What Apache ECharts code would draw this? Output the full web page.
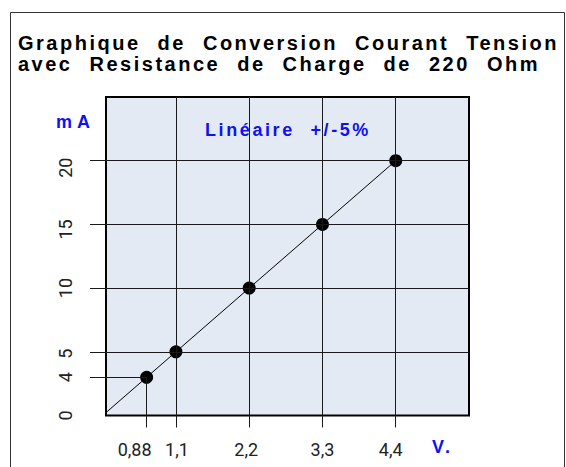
<!DOCTYPE html>
<html><head><meta charset="utf-8">
<script src="https://cdn.jsdelivr.net/npm/echarts@6/dist/echarts.min.js"></script>
<style>
html,body{margin:0;padding:0;background:#fff;}
#chart{width:566px;height:467px;}
#chart text[style*="ttlfont"]{letter-spacing:2.5px;word-spacing:9px;}
#chart text[style*="notefont"]{letter-spacing:2.6px;word-spacing:8px;}
#chart text[style*="unitfont"]{letter-spacing:5px;}
</style></head><body><div id="chart"></div>
<script>
// ---- data ----
const titleText = 'Graphique de Conversion Courant Tension\navec Resistance de Charge de 220 Ohm';
const voltTickPos = [0.66, 1.1, 2.2, 3.3, 4.4];          // positions on the drawn (linear) V scale
const voltTickLabels = ['0,88', '1,1', '2,2', '3,3', '4,4'];
const mATickPos = [0, 3, 5, 10, 15, 20];                 // positions on the drawn (linear) mA scale
const mATickLabels = ['0', '4', '5', '10', '15', '20'];
const pointVolts = [0, 0.66, 1.1, 2.2, 3.3, 4.4];
const pointmA = [0, 3, 5, 10, 15, 20];
const gridVolts = [1.1, 2.2, 3.3, 4.4];
const gridmA = [5, 10, 15, 20];
const unitY = 'mA', unitX = 'V.', noteText = 'Linéaire +/-5%';
// ---------------------------------------

// small per-label nudges (padding) seen in the reference
const xLabelPad = [[0, 24, 0, 0], [0, 0, 0, 2], [0, 6, 0, 0], [0, 0, 0, 0], [0, 10, 0, 0]];
const yLabelPad = [[0, 0, 0, 0], [0, 0, 0, 0], [0, 4, 0, 0], [0, 0, 0, 0], [0, 10, 0, 0], [0, 14, 0, 0]];

function nearest(pos, v) {
  let best = 0;
  for (let i = 1; i < pos.length; i++) if (Math.abs(pos[i] - v) < Math.abs(pos[best] - v)) best = i;
  return best;
}
function richFor(pads) {
  const r = {};
  pads.forEach((p, i) => { r['s' + i] = { padding: p, fontSize: 18, fontFamily: 'Roboto', color: '#222' }; });
  return r;
}
const X_MIN = 0.05, X_MAX = 5.5, Y_MIN = 0, Y_MAX = 25;
const lineCol = '#1a1a1a';
const blue = '#1010f4';
const chart = echarts.init(document.getElementById('chart'), null, { renderer: 'svg' });
const markData = [];
gridVolts.forEach(v => markData.push({ xAxis: v }));
gridmA.forEach(v => markData.push({ yAxis: v }));
// drop lines from the first point to the axes
markData.push([{ coord: [pointVolts[1], Y_MIN] }, { coord: [pointVolts[1], pointmA[1]] }]);
markData.push([{ coord: [X_MIN, pointmA[1]] }, { coord: [pointVolts[1], pointmA[1]] }]);

chart.setOption({
  animation: false,
  backgroundColor: '#fff',
  title: {
    text: titleText, left: 18, top: 32, padding: 0,
    textStyle: { fontSize: 20, fontWeight: 'bold', fontFamily: 'Liberation Sans, ttlfont', color: '#000', lineHeight: 21 }
  },
  grid: { left: 106, top: 97, width: 363, height: 318.5, show: true, backgroundColor: '#e4eaf3', borderColor: '#000', borderWidth: 2 },
  xAxis: {
    type: 'value', min: X_MIN, max: X_MAX,
    axisLine: { show: false }, splitLine: { show: false },
    axisTick: { show: true, customValues: voltTickPos, length: 12, lineStyle: { color: lineCol, width: 1 } },
    axisLabel: {
      customValues: voltTickPos, margin: 25, fontSize: 18, fontFamily: 'Roboto', color: '#222',
      formatter: v => { const i = nearest(voltTickPos, v); return '{s' + i + '|' + voltTickLabels[i] + '}'; },
      rich: richFor(xLabelPad)
    }
  },
  yAxis: {
    type: 'value', min: Y_MIN, max: Y_MAX,
    axisLine: { show: false }, splitLine: { show: false },
    axisTick: { show: true, customValues: mATickPos.slice(1), length: 16, lineStyle: { color: lineCol, width: 1 } },
    axisLabel: {
      customValues: mATickPos, rotate: 90, margin: 32, fontSize: 18, fontFamily: 'Roboto', color: '#222',
      formatter: v => { const i = nearest(mATickPos, v); return '{s' + i + '|' + mATickLabels[i] + '}'; },
      rich: richFor(yLabelPad)
    }
  },
  graphic: [
    { type: 'rect', shape: { x: 10.5, y: 12.5, width: 554, height: 480 }, style: { fill: 'none', stroke: '#333', lineWidth: 1 }, silent: true },
    { type: 'text', x: 56, y: 122, style: { text: unitY, font: 'bold 18px Liberation Sans, unitfont', fill: blue, textVerticalAlign: 'middle' } },
    { type: 'text', x: 205, y: 129.5, style: { text: noteText, font: 'bold 18px Liberation Sans, notefont', fill: blue, textVerticalAlign: 'middle' } },
    { type: 'text', x: 432, y: 447, style: { text: unitX, font: 'bold 18px Liberation Sans, notefont', fill: blue, textVerticalAlign: 'middle' } }
  ],
  series: [
    {
      type: 'line', data: [], z: 1, silent: true,
      markLine: { silent: true, symbol: ['none', 'none'], label: { show: false }, lineStyle: { color: lineCol, width: 1, type: 'solid' }, emphasis: { disabled: true }, data: markData }
    },
    {
      type: 'line', z: 3, clip: false, silent: true,
      data: pointVolts.map((x, i) => ({ value: [x, pointmA[i]], symbolSize: i === 0 ? 0 : 13 })),
      symbol: 'circle', showSymbol: true,
      lineStyle: { color: '#000', width: 1 }, itemStyle: { color: '#000' }
    }
  ]
});
</script></body></html>
